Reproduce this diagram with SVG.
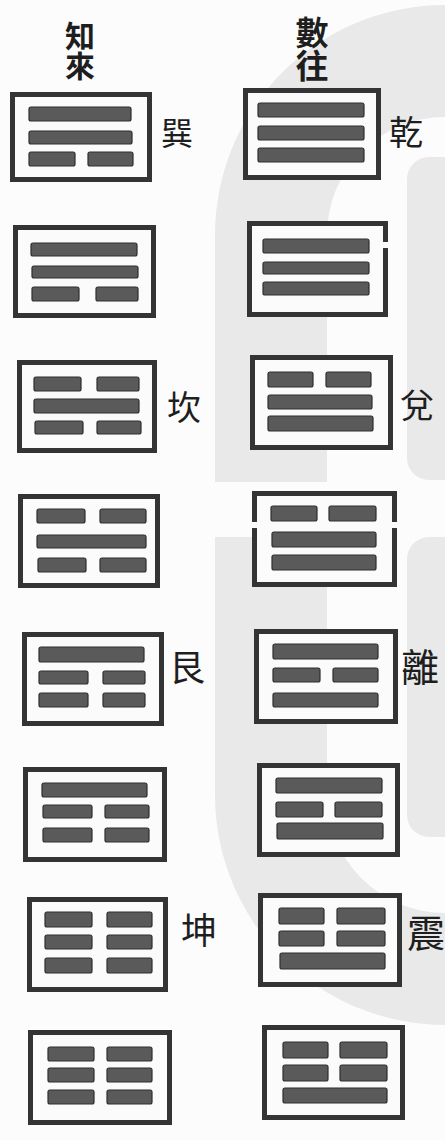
<svg xmlns="http://www.w3.org/2000/svg" width="445" height="1140" viewBox="0 0 445 1140">
<style>
.wm{fill:#e9e9e9}
.frame{fill:#fbfbfb;stroke:#343434;stroke-width:5;stroke-linejoin:miter}
.open{fill:none;stroke:#343434;stroke-width:5}
.fill{fill:#fbfbfb}
.bar{fill:#5a5a5a;stroke:#2e2e2e;stroke-width:1.2}
.hd{font-family:"Noto Sans CJK TC","Noto Sans CJK SC",sans-serif;font-weight:700;fill:#1e1e1e;writing-mode:vertical-rl;text-anchor:start}
.lbl{font-family:"Noto Sans CJK TC","Noto Sans CJK SC",sans-serif;font-weight:400;font-size:34px;fill:#1e1e1e;text-anchor:middle;dominant-baseline:central}
</style>
<rect width="445" height="1140" fill="#fcfcfc"/>
<g id="watermark">
<path class="wm" d="M445,5 A230,230 0 0 0 215,235 L215,482 L327,482 L327,235 A118,118 0 0 1 445,117 Z"/>
<path class="wm" d="M215,537 L215,795 A230,230 0 0 0 445,1025 L445,913 A118,118 0 0 1 327,795 L327,537 Z"/>
<rect class="wm" x="407" y="157" width="60" height="323" rx="22"/>
<rect class="wm" x="407" y="537" width="60" height="300" rx="22"/>
</g>
<g id="headers">
<text class="hd" x="80" y="21" style="font-size:30px">知來</text>
<text class="hd" x="312" y="16" style="font-size:33px">數往</text>
</g>
<g id="connectors"/>
<g id="L1">
<rect class="frame" x="12.5" y="94.5" width="137" height="85"/>
<rect class="bar" x="29" y="107" width="102" height="14" rx="2"/>
<rect class="bar" x="29" y="131" width="103" height="13" rx="2"/>
<rect class="bar" x="29" y="152" width="46" height="14" rx="2"/>
<rect class="bar" x="88" y="152" width="45" height="14" rx="2"/>
<text class="lbl" x="177" y="131" style="font-size:32px">巽</text>
</g>
<g id="R1">
<rect class="frame" x="245.5" y="90.5" width="133" height="87"/>
<rect class="bar" x="258" y="103" width="106" height="14" rx="2"/>
<rect class="bar" x="258" y="126" width="106" height="14" rx="2"/>
<rect class="bar" x="258" y="148" width="106" height="14" rx="2"/>
<text class="lbl" x="406" y="130">乾</text>
</g>
<g id="L2">
<rect class="frame" x="15.5" y="227.5" width="138" height="88"/>
<rect class="bar" x="31" y="243" width="106" height="13" rx="2"/>
<rect class="bar" x="32" y="266" width="106" height="12" rx="2"/>
<rect class="bar" x="32" y="287" width="47" height="14" rx="2"/>
<rect class="bar" x="96" y="287" width="42" height="14" rx="2"/>
</g>
<g id="R2">
<rect class="fill" x="249.5" y="223.5" width="136" height="91"/>
<path class="open" d="M385.5,242 L385.5,223.5 L249.5,223.5 L249.5,314.5 L385.5,314.5 L385.5,248"/>
<rect class="bar" x="263" y="239" width="106" height="14" rx="2"/>
<rect class="bar" x="263" y="262" width="106" height="12" rx="2"/>
<rect class="bar" x="263" y="282" width="106" height="13" rx="2"/>
</g>
<g id="L3">
<rect class="frame" x="19.5" y="362.5" width="135" height="88"/>
<rect class="bar" x="34" y="377" width="47" height="14" rx="2"/>
<rect class="bar" x="97" y="377" width="42" height="14" rx="2"/>
<rect class="bar" x="34" y="399" width="105" height="14" rx="2"/>
<rect class="bar" x="35" y="421" width="48" height="13" rx="2"/>
<rect class="bar" x="97" y="421" width="44" height="13" rx="2"/>
<text class="lbl" x="184" y="405">坎</text>
</g>
<g id="R3">
<rect class="frame" x="252.5" y="357.5" width="138" height="90"/>
<rect class="bar" x="268" y="372" width="45" height="15" rx="2"/>
<rect class="bar" x="326" y="372" width="45" height="15" rx="2"/>
<rect class="bar" x="268" y="395" width="104" height="14" rx="2"/>
<rect class="bar" x="268" y="416" width="105" height="15" rx="2"/>
<text class="lbl" x="417" y="403">兌</text>
</g>
<g id="L4">
<rect class="frame" x="20.5" y="496.5" width="137" height="89"/>
<rect class="bar" x="37" y="509" width="48" height="14" rx="2"/>
<rect class="bar" x="100" y="509" width="46" height="14" rx="2"/>
<rect class="bar" x="37" y="535" width="109" height="13" rx="2"/>
<rect class="bar" x="38" y="558" width="48" height="14" rx="2"/>
<rect class="bar" x="100" y="558" width="46" height="14" rx="2"/>
</g>
<g id="R4">
<rect class="fill" x="254.5" y="493.5" width="140" height="91"/>
<path class="open" d="M254.5,522 L254.5,493.5 L394.5,493.5 L394.5,522 M254.5,528 L254.5,584.5 L394.5,584.5 L394.5,528"/>
<rect class="bar" x="271" y="506" width="46" height="15" rx="2"/>
<rect class="bar" x="329" y="506" width="47" height="15" rx="2"/>
<rect class="bar" x="272" y="532" width="104" height="15" rx="2"/>
<rect class="bar" x="272" y="555" width="104" height="15" rx="2"/>
</g>
<g id="L5">
<rect class="frame" x="24.5" y="634.5" width="137" height="89"/>
<rect class="bar" x="39" y="647" width="105" height="15" rx="2"/>
<rect class="bar" x="39" y="671" width="49" height="13" rx="2"/>
<rect class="bar" x="103" y="671" width="42" height="13" rx="2"/>
<rect class="bar" x="39" y="693" width="49" height="14" rx="2"/>
<rect class="bar" x="103" y="693" width="42" height="14" rx="2"/>
<text class="lbl" x="187" y="665" style="font-size:36px">艮</text>
</g>
<g id="R5">
<rect class="frame" x="256.5" y="631.5" width="139" height="90"/>
<rect class="bar" x="273" y="644" width="105" height="15" rx="2"/>
<rect class="bar" x="273" y="668" width="47" height="14" rx="2"/>
<rect class="bar" x="333" y="668" width="45" height="14" rx="2"/>
<rect class="bar" x="273" y="693" width="105" height="14" rx="2"/>
<text class="lbl" x="420" y="664" style="font-size:38px">離</text>
</g>
<g id="L6">
<rect class="frame" x="25.5" y="769.5" width="139" height="90"/>
<rect class="bar" x="42" y="783" width="105" height="14" rx="2"/>
<rect class="bar" x="43" y="805" width="49" height="13" rx="2"/>
<rect class="bar" x="105" y="805" width="44" height="13" rx="2"/>
<rect class="bar" x="43" y="828" width="49" height="14" rx="2"/>
<rect class="bar" x="105" y="828" width="44" height="14" rx="2"/>
</g>
<g id="R6">
<rect class="frame" x="259.5" y="765.5" width="138" height="89"/>
<rect class="bar" x="276" y="778" width="106" height="15" rx="2"/>
<rect class="bar" x="276" y="802" width="47" height="15" rx="2"/>
<rect class="bar" x="335" y="802" width="47" height="15" rx="2"/>
<rect class="bar" x="277" y="823" width="106" height="16" rx="2"/>
</g>
<g id="L7">
<rect class="frame" x="29.5" y="899.5" width="136" height="90"/>
<rect class="bar" x="45" y="912" width="47" height="15" rx="2"/>
<rect class="bar" x="107" y="912" width="45" height="15" rx="2"/>
<rect class="bar" x="45" y="935" width="47" height="14" rx="2"/>
<rect class="bar" x="107" y="935" width="45" height="14" rx="2"/>
<rect class="bar" x="45" y="958" width="47" height="15" rx="2"/>
<rect class="bar" x="107" y="958" width="45" height="15" rx="2"/>
<text class="lbl" x="199" y="928" style="font-size:36px">坤</text>
</g>
<g id="R7">
<rect class="frame" x="260.5" y="895.5" width="139" height="89"/>
<rect class="bar" x="279" y="908" width="45" height="16" rx="2"/>
<rect class="bar" x="337" y="908" width="48" height="16" rx="2"/>
<rect class="bar" x="279" y="931" width="45" height="15" rx="2"/>
<rect class="bar" x="337" y="931" width="48" height="15" rx="2"/>
<rect class="bar" x="280" y="953" width="105" height="16" rx="2"/>
<text class="lbl" x="426" y="930" style="font-size:38px">震</text>
</g>
<g id="L8">
<rect class="frame" x="30.5" y="1032.5" width="139" height="90"/>
<rect class="bar" x="48" y="1047" width="46" height="14" rx="2"/>
<rect class="bar" x="107" y="1047" width="45" height="14" rx="2"/>
<rect class="bar" x="48" y="1068" width="46" height="14" rx="2"/>
<rect class="bar" x="107" y="1068" width="45" height="14" rx="2"/>
<rect class="bar" x="48" y="1090" width="46" height="14" rx="2"/>
<rect class="bar" x="107" y="1090" width="45" height="14" rx="2"/>
</g>
<g id="R8">
<rect class="frame" x="264.5" y="1027.5" width="138" height="90"/>
<rect class="bar" x="283" y="1042" width="45" height="16" rx="2"/>
<rect class="bar" x="340" y="1042" width="47" height="16" rx="2"/>
<rect class="bar" x="283" y="1065" width="45" height="16" rx="2"/>
<rect class="bar" x="340" y="1065" width="47" height="16" rx="2"/>
<rect class="bar" x="283" y="1088" width="104" height="15" rx="2"/>
</g>
</svg>
